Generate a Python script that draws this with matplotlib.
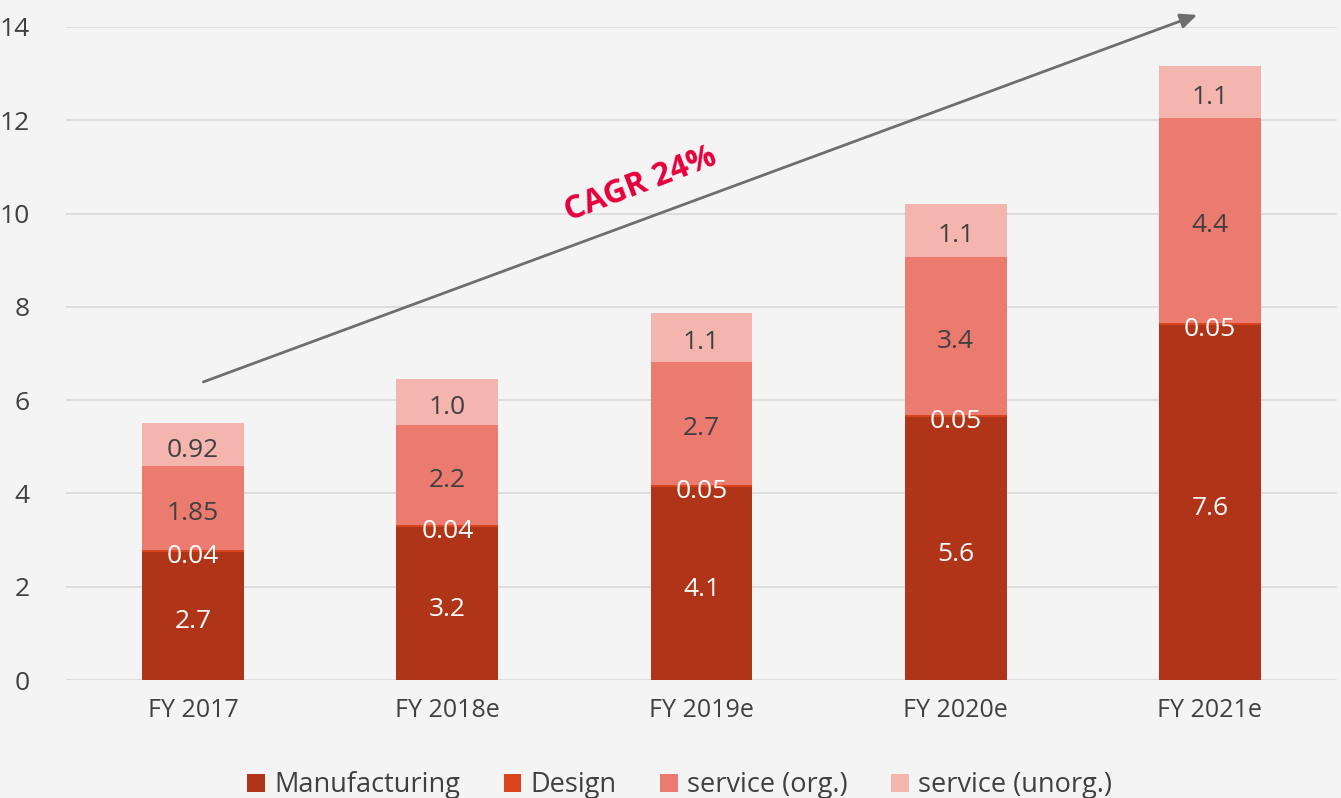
import matplotlib
matplotlib.use("Agg")
import matplotlib.pyplot as plt
import numpy as np

categories = ["FY 2017", "FY 2018e", "FY 2019e", "FY 2020e", "FY 2021e"]
manufacturing = [2.74, 3.28, 4.14, 5.64, 7.61]
design = [0.04, 0.04, 0.05, 0.05, 0.05]
service_org = [1.81, 2.15, 2.63, 3.38, 4.39]
service_unorg = [0.92, 0.98, 1.05, 1.14, 1.11]

lab_manufacturing = ["2.7", "3.2", "4.1", "5.6", "7.6"]
lab_design = ["0.04", "0.04", "0.05", "0.05", "0.05"]
lab_org = ["1.85", "2.2", "2.7", "3.4", "4.4"]
lab_unorg = ["0.92", "1.0", "1.1", "1.1", "1.1"]

series_names = ["Manufacturing", "Design", "service (org.)", "service (unorg.)"]
colors = ["#B03418", "#D9441F", "#EB7B6F", "#F4B5AF"]
yticks = [0, 2, 4, 6, 8, 10, 12, 14]

plt.rcParams['font.family'] = ['Open Sans', 'DejaVu Sans']

fig = plt.figure(figsize=(13.41, 7.98), dpi=100)
fig.patch.set_facecolor("#F4F4F4")
ax = fig.add_axes([66/1341, 1-680/798, (1337-66)/1341, (680-27)/798])
ax.set_facecolor("none")

x = np.arange(len(categories))
w = 0.4
data = [manufacturing, design, service_org, service_unorg]
labels = [lab_manufacturing, lab_design, lab_org, lab_unorg]
txtcolors = ["white", "white", "#404040", "#404040"]
bottom = np.zeros(len(categories))
for vals, col, name, labs, tc in zip(data, colors, series_names, labels, txtcolors):
    vals = np.array(vals)
    ax.bar(x, vals, w, bottom=bottom, color=col, label=name, zorder=3)
    for xi, b, v, l in zip(x, bottom, vals, labs):
        ax.annotate(l, (xi, b + v / 2), xytext=(0, -4), textcoords="offset points",
                    ha="center", va="center", color=tc, fontsize=19, zorder=5)
    bottom = bottom + vals

ax.set_xlim(-0.5, len(categories) - 0.5)
ax.set_ylim(0, 14)
ax.set_yticks(yticks)
ax.set_xticks(x)
ax.set_xticklabels(categories)
ax.tick_params(axis="both", length=0, labelsize=18, colors="#404040")
ax.tick_params(axis="y", pad=26, labelsize=19)
ax.tick_params(axis="x", pad=13)
ax.grid(axis="y", color="#D9D9D9", linewidth=1.2, zorder=0)
for s in ax.spines.values():
    s.set_visible(False)

ax.annotate("", xy=(3.96, 14.28), xytext=(0.03, 6.37), xycoords="data",
            arrowprops=dict(arrowstyle="-|>,head_length=1.0,head_width=0.45",
                            color="#6E6E6E", lw=2), annotation_clip=False, zorder=6)
ax.text(1.76, 10.62, "CAGR 24%", rotation=21, ha="center", va="center",
        color="#E6003C", fontsize=23, fontweight="bold", zorder=6)

fig.legend(loc="lower center", bbox_to_anchor=(0.507, -0.032), ncol=4,
           frameon=False, fontsize=19.5, handlelength=0.65, handleheight=0.65,
           columnspacing=1.6, handletextpad=0.35, labelcolor="#404040")

fig.savefig("out.png", dpi=100, facecolor=fig.get_facecolor())
